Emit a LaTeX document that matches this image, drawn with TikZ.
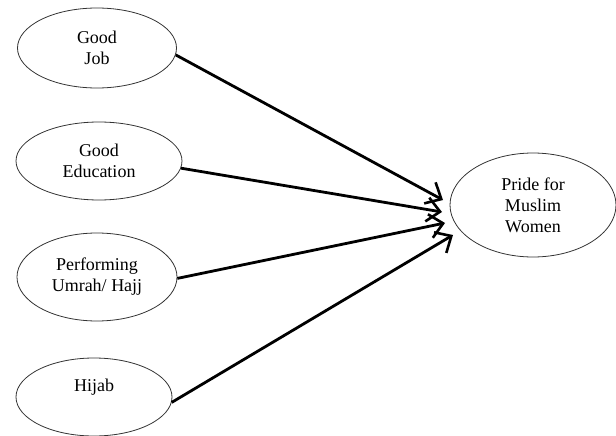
\documentclass[tikz,border=0pt]{standalone}
\usepackage{fontspec}
\setmainfont{Liberation Serif}
\usetikzlibrary{shapes.geometric,arrows.meta}
\begin{document}
\begin{tikzpicture}[x=1pt,y=-1pt,
  oval/.style={ellipse,draw=black!80,line width=0.8pt,inner sep=0pt,
    font=\fontsize{18}{21}\selectfont,align=center},
  link/.style={line width=2.8pt,-{Straight Barb[length=13pt,width=24pt,line width=2.6pt]}}]
\useasboundingbox (0,0) rectangle (616,436);
\node[oval,minimum width=159pt,minimum height=80pt] (job) at (97,48) {Good\\Job};
\node[oval,minimum width=166pt,minimum height=78pt] (edu) at (99,161) {Good\\Education};
\node[oval,minimum width=160pt,minimum height=88pt] (umrah) at (97,277) {Performing\\Umrah/ Hajj};
\node[oval,minimum width=156pt,minimum height=78pt] (hijab) at (94,397) {\raisebox{6pt}[0pt][0pt]{Hijab}};
\node[oval,minimum width=166pt,minimum height=104pt] (pride) at (533,205) {Pride for\\Muslim\\Women};
\coordinate (e1) at (443,200);
\coordinate (e2) at (442,212);
\coordinate (e3) at (445,223);
\coordinate (e4) at (453,235);
\draw[link] (job.-5) -- (e1);
\draw[link] (edu.-5) -- (e2);
\draw[link] (umrah.-1.5) -- (e3);
\draw[link] (hijab.-4) -- (e4);
\end{tikzpicture}
\end{document}
